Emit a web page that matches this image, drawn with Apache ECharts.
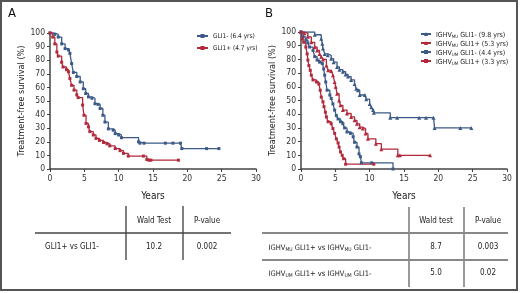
<!DOCTYPE html>
<html><head><meta charset="utf-8">
<script src="https://cdn.jsdelivr.net/npm/echarts@6/dist/echarts.min.js"></script>
<style>html,body{margin:0;padding:0;background:#fff}#c{width:520px;height:293px}</style>
</head><body><div id="c"></div>
<script>
// ---- Panel A data (years, % treatment-free) ----
var aNegT = [0,0.7,1.2,1.7,2.2,2.7,2.9,3.15,3.4,3.9,4.4,4.85,5.2,5.6,6.1,6.55,7.0,7.3,7.7,8.0,8.5,9.2,9.5,10,10.4,12.9,13.1,13.7,16.8,17.9,19.0,19.2,22.8,24.6];
var aNegS = [100,99,97,92,88.5,87.5,85,77.5,71,68,64,59,55.5,53,52,48,47.5,44.5,39.5,34.5,29.5,28.5,26,25,23,20,19,19,19,19,19,15,15,15];
var aPosT = [0,0.4,0.7,1.0,1.2,1.7,1.9,2.4,2.7,2.9,3.15,3.5,3.9,4.1,4.75,4.95,5.25,5.6,5.8,6.3,6.7,7.2,7.8,8.3,8.7,9.5,10.2,10.7,11.4,13.6,14.1,14.4,14.7,18.7];
var aPosS = [100,97,92,86,83,78.5,75,73,71.5,66.5,61.5,58,54.5,52.5,47,39.5,33.5,31,27.5,25,22.5,21,19.5,18.5,17,15,13.5,11.5,9.5,9.5,7,6.5,6.5,6.5];
// ---- Panel B data ----
var muNegT = [0,2.0,2.95,3.1,3.2,3.45,3.9,4.4,4.75,5.25,5.6,6.1,6.5,6.85,7.3,7.8,8.05,8.3,8.55,9.3,9.5,10.0,10.25,10.5,10.6,13.0,14.0,17.2,18.2,19.3,19.45,23.2,24.8];
var muNegS = [100,98,95,91.5,88,84,83,80.5,78,74.5,72.5,71,69,67.5,65,62,58.5,57.5,54,54,51,47.5,45,43,41,37.5,37.5,37.5,37.5,37.5,30,30,30];
var muPosT = [0,0.5,1.0,1.5,2.0,2.35,2.7,2.95,3.2,3.7,3.95,4.4,4.65,4.9,5.05,5.25,5.55,5.75,6.1,6.7,7.3,7.8,8.15,8.55,9.0,9.4,9.75,10.9,11.7,14.1,14.4,18.8];
var muPosS = [100,99,96.5,92.5,89,86.5,84,82,80,75.5,72,71.5,68.5,63.5,60,55,50,46.5,43,40.5,38,35.5,33,30.5,29.5,26,22,18.5,14.5,10,10,10];
var umNegT = [0,0.3,0.7,1.0,1.25,1.75,2.0,2.35,2.7,3.1,3.3,3.45,3.6,3.8,4.2,4.4,4.65,4.9,5.15,5.4,5.75,6.1,6.35,6.7,7.2,7.6,7.8,8.15,8.45,8.65,8.8,10.3,13.4];
var umNegS = [100,96.5,94,92,89,86.5,82,79.5,78,77,73,68.5,63.5,57.5,54,51.5,47.5,43,39,36.5,34.5,33,30,27,26,23.5,19.5,16,11,9,4.5,4.5,0];
var umPosT = [0,0.2,0.4,0.7,0.9,1.0,1.15,1.35,1.5,1.75,2.25,2.6,2.8,2.95,3.2,3.35,3.55,3.7,3.95,4.4,4.65,4.9,5.15,5.4,5.55,5.75,6.0,6.2,6.5,10.6];
var umPosS = [100,95,92.5,89,84,79.5,75.5,72,68.5,65,63.5,62,57.5,52.5,49,45.5,41.5,38,34.5,33,29.5,26,22,19,16,12.5,10,7.5,3.5,3.5];
// ---- labels ----
var namesA = ['GLI1- (6.4 yrs)', 'GLI1+ (4.7 yrs)'];
var namesB = ['IGHV_MU GLI1- (9.8 yrs)', 'IGHV_MU GLI1+ (5.3 yrs)', 'IGHV_UM GLI1- (4.4 yrs)', 'IGHV_UM GLI1+ (3.3 yrs)'];
var xTicks = [0,5,10,15,20,25,30];
var yTicks = [0,10,20,30,40,50,60,70,80,90,100];
var tableAHeader = ['', 'Wald Test', 'P-value'];
var tableARows = [['GLI1+ vs GLI1-', '10.2', '0.002']];
var tableBHeader = ['', 'Wald test', 'P-value'];
var tableBRows = [['IGHV_MU GLI1+ vs IGHV_MU GLI1-', '8.7', '0.003'], ['IGHV_UM GLI1+ vs IGHV_UM GLI1-', '5.0', '0.02']];

var BLUE = '#3c5a88', RED = '#b02a3c';
var FONT = "'Liberation Sans Narrow','DejaVu Sans Condensed','Liberation Sans',sans-serif";

function pairs(t, s) { return t.map(function (v, i) { return [v, s[i]]; }); }
function rich(str) { return '{a|' + str.replace(/_(MU|UM)/g, '}{s|$1}{a|') + '}'; }
function richSet(fs, ss, lh) {
  return {
    a: { fontSize: fs, fontFamily: FONT, color: '#222', lineHeight: lh, verticalAlign: 'bottom' },
    s: { fontSize: ss, fontFamily: FONT, color: '#222', lineHeight: Math.round(lh * 0.6), verticalAlign: 'bottom' }
  };
}
var richTable = richSet(7.5, 5, 11);
var richLegend = richSet(7, 4.5, 10);

function xAx(gi) {
  return { gridIndex: gi, type: 'value', min: 0, max: 30, interval: 5,
    name: 'Years', nameLocation: 'middle', nameGap: 22,
    nameTextStyle: { fontSize: 10, fontFamily: FONT, color: '#222' },
    axisLine: { lineStyle: { color: '#444', width: 1.5 } },
    axisTick: { length: 3, lineStyle: { color: '#444' } },
    axisLabel: { fontSize: 8.5, fontFamily: FONT, color: '#333', margin: 5,
      formatter: function (v) { return xTicks.indexOf(v) >= 0 ? String(v) : ''; } },
    splitLine: { show: false } };
}
function yAx(gi) {
  return { gridIndex: gi, type: 'value', min: 0, max: 100, interval: 10,
    name: 'Treatment-free survival (%)', nameLocation: 'middle', nameGap: 23,
    nameTextStyle: { fontSize: 9, fontFamily: FONT, color: '#222' },
    axisLine: { show: true, lineStyle: { color: '#444', width: 1.5 } },
    axisTick: { show: true, length: 3, lineStyle: { color: '#444' } },
    axisLabel: { fontSize: 8.5, fontFamily: FONT, color: '#333', margin: 5,
      formatter: function (v) { return yTicks.indexOf(v) >= 0 ? String(v) : ''; } },
    splitLine: { show: false } };
}
function ser(name, gi, t, s, color, sym, size) {
  return { name: name, type: 'line', xAxisIndex: gi, yAxisIndex: gi, step: 'end',
    data: pairs(t, s), symbol: sym, symbolSize: size, showAllSymbol: true,
    lineStyle: { color: color, width: 1.3 }, itemStyle: { color: color }, animation: false };
}

var graphics = [
  { type: 'rect', shape: { x: 1, y: 1, width: 516, height: 289 }, style: { fill: 'none', stroke: '#555', lineWidth: 2 } },
  { type: 'text', left: 8, top: 7, style: { text: 'A', fontSize: 13, fontFamily: FONT, fill: '#111' } },
  { type: 'text', left: 265, top: 7, style: { text: 'B', fontSize: 13, fontFamily: FONT, fill: '#111' } }
];
function line(x1, y1, x2, y2, c, w) {
  graphics.push({ type: 'line', shape: { x1: x1, y1: y1, x2: x2, y2: y2 }, style: { stroke: c, lineWidth: w } });
}
function txt(x, y, str, isRich) {
  var st = { x: x, y: y, align: 'center', verticalAlign: 'middle', fontSize: 8, fontFamily: FONT, fill: '#222' };
  if (isRich) { st.text = rich(str); st.rich = richTable; } else { st.text = str; }
  graphics.push({ type: 'text', style: st });
}
// Table A
var colA = [72, 154, 207];
line(126, 206, 126, 260, '#555', 1.5); line(183, 206, 183, 260, '#555', 1.5);
line(35, 233, 231, 233, '#444', 1.5);
tableAHeader.forEach(function (h, i) { if (h) txt(colA[i], 221, h); });
tableARows.forEach(function (r, j) { r.forEach(function (c, i) { txt(colA[i], 247 + j * 26, c); }); });
// Table B
var colB = [320, 436, 488];
line(409, 207, 409, 287, '#777', 1.5); line(464, 207, 464, 287, '#777', 1.5);
line(262, 233, 508, 233, '#888', 2); line(262, 260, 508, 260, '#888', 2);
tableBHeader.forEach(function (h, i) { if (h) txt(colB[i], 221, h); });
tableBRows.forEach(function (r, j) { r.forEach(function (c, i) { txt(colB[i], 247 + j * 26, c, i === 0); }); });

var chart = echarts.init(document.getElementById('c'), null, { renderer: 'canvas' });
chart.setOption({
  animation: false,
  backgroundColor: '#fff',
  grid: [
    { left: 50, top: 33, width: 206, height: 136 },
    { left: 301, top: 32, width: 206, height: 137 }
  ],
  xAxis: [xAx(0), xAx(1)],
  yAxis: [yAx(0), yAx(1)],
  legend: [
    { data: namesA, orient: 'vertical', left: 191, top: 27, itemWidth: 11, itemHeight: 5, itemGap: 4,
      textStyle: { fontSize: 6.5, lineHeight: 8, fontFamily: FONT, color: '#222' } },
    { data: namesB, orient: 'vertical', left: 415, top: 27, itemWidth: 10, itemHeight: 5, itemGap: 2,
      formatter: function (n) { return rich(n); },
      textStyle: { fontSize: 7, fontFamily: FONT, color: '#222', rich: richLegend } }
  ],
  series: [
    ser(namesA[0], 0, aNegT, aNegS, BLUE, 'rect', 3),
    ser(namesA[1], 0, aPosT, aPosS, RED, 'rect', 3),
    ser(namesB[0], 1, muNegT, muNegS, BLUE, 'triangle', 4),
    ser(namesB[1], 1, muPosT, muPosS, RED, 'triangle', 4),
    ser(namesB[2], 1, umNegT, umNegS, BLUE, 'rect', 3),
    ser(namesB[3], 1, umPosT, umPosS, RED, 'rect', 3)
  ],
  graphic: graphics
});
</script></body></html>
